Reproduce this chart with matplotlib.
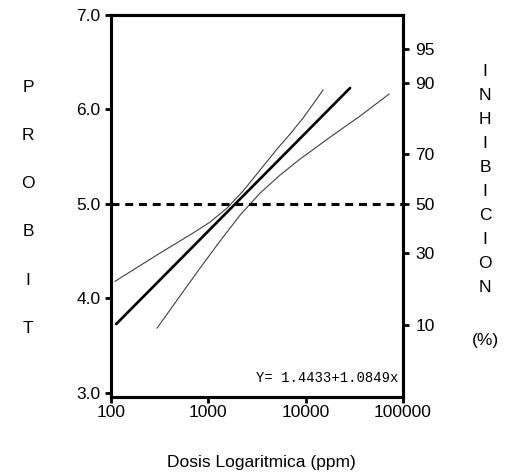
import numpy as np
import matplotlib
matplotlib.use("Agg")
import matplotlib.pyplot as plt

plt.rcParams['font.family'] = ['Liberation Sans', 'DejaVu Sans']

# regression line (dose ppm, probit)
dosis_recta = [113, 28580]
probit_recta = [3.727, 6.227]

# confidence limits
dosis_sup = [110, 319, 696, 1041, 1557, 2274, 3399, 5083, 6915, 9404, 11918, 15095]
probit_sup = [4.18, 4.479, 4.691, 4.807, 4.956, 5.136, 5.358, 5.581, 5.739, 5.909, 6.057, 6.206]
dosis_inf = [297, 477, 822, 1319, 2118, 3399, 5457, 8760, 19125, 36240, 71950]
probit_inf = [3.684, 3.981, 4.32, 4.606, 4.881, 5.114, 5.305, 5.475, 5.729, 5.93, 6.163]

# right axis: % inhibition and its probit position
inhib_pct = ["10", "30", "50", "70", "90", "95"]
inhib_probit = [3.718, 4.476, 5.0, 5.524, 6.282, 6.645]

ecuacion = "Y= 1.4433+1.0849x"

W, H = 508, 474
fig = plt.figure(figsize=(W/100, H/100), dpi=100)
ax = fig.add_axes([111/W, 1-397/H, (403-111)/W, (397-15)/H])

ax.plot(dosis_recta, probit_recta, color='black', lw=1.9, solid_capstyle='round')
ax.plot(dosis_sup, probit_sup, color='#333333', lw=0.75)
ax.plot(dosis_inf, probit_inf, color='#333333', lw=0.75)
ax.plot([100, 100000], [5.0, 5.0], color='black', lw=2.2, ls=(0, (2.6, 1.9)))

ax.set_xscale('log')
ax.set_xlim(100, 100000)
ax.set_ylim(2.955, 7.0)
ax.set_xticks([100, 1000, 10000, 100000])
ax.set_xticklabels(["100", "1000", "10000", "100000"])
ax.minorticks_off()
ax.set_yticks([3, 4, 5, 6, 7])
ax.set_yticklabels(["3.0", "4.0", "5.0", "6.0", "7.0"])
ax.tick_params(axis='both', direction='out', length=4, width=2, labelsize=12.5, color='black')
ax.tick_params(axis='x', pad=2)
ax.tick_params(axis='y', pad=3.5)
for s in ax.spines.values():
    s.set_linewidth(2.2)

ax2 = ax.twinx()
ax2.set_ylim(ax.get_ylim())
ax2.set_yticks(inhib_probit)
ax2.set_yticklabels(inhib_pct)
ax2.tick_params(axis='y', direction='out', length=4.5, width=2, labelsize=12.5, pad=4.5)
for s in ax2.spines.values():
    s.set_linewidth(2.2)

ax.text(0.985, 0.05, ecuacion, transform=ax.transAxes, ha='right', va='center',
        family='Liberation Mono', fontsize=10)

fig.text(261/W, 1-462/H, "Dosis Logaritmica (ppm)", ha='center', va='center', fontsize=12.5)

# vertical letter labels
for i, c in enumerate("PROBIT"):
    fig.text(28/W, 1-(87+48.3*i)/H, c, ha='center', va='center', fontsize=12.5)
for i, c in enumerate("INHIBICION"):
    fig.text(485/W, 1-(71+24.1*i)/H, c, ha='center', va='center', fontsize=12.5)
fig.text(485/W, 1-340/H, "(%)", ha='center', va='center', fontsize=12.5)

fig.savefig("out.png", dpi=100)
